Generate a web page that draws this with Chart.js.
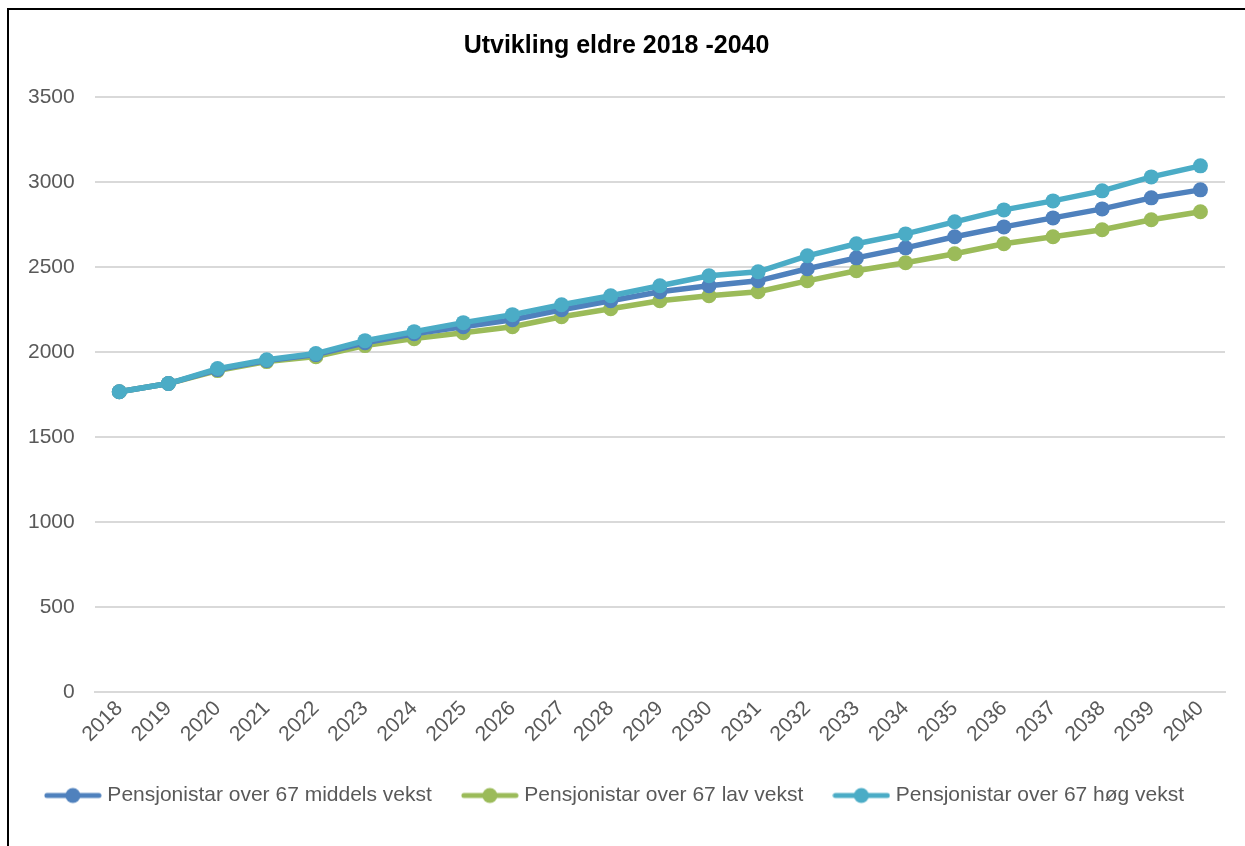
<!DOCTYPE html>
<html>
<head>
<meta charset="utf-8">
<script src="https://cdn.jsdelivr.net/npm/chart.js@4/dist/chart.umd.min.js"></script>
<style>
  html, body { margin: 0; padding: 0; background: #fff; }
  .frame {
    position: absolute; left: 7px; top: 8px; width: 1238px; height: 838px;
    border-left: 2px solid #000; border-top: 2px solid #000;
  }
  .wrap { position: absolute; left: 0; top: 0; width: 1245px; height: 846px; }
</style>
</head>
<body>
<div class="frame"></div>
<div class="wrap"><canvas id="eldreChart"></canvas></div>
<script>
// ===== Data =====
const years = ["2018","2019","2020","2021","2022","2023","2024","2025","2026","2027","2028",
  "2029","2030","2031","2032","2033","2034","2035","2036","2037","2038","2039","2040"];

const middels = [1767,1815,1897,1950,1985,2055,2108,2149,2190,2249,2302,
  2355,2390,2419,2490,2554,2613,2678,2736,2789,2842,2907,2954];
const lav = [1767,1815,1891,1944,1973,2038,2079,2114,2149,2208,2255,
  2302,2331,2355,2419,2478,2525,2578,2637,2678,2719,2778,2825];
const hog = [1767,1815,1903,1955,1991,2067,2120,2173,2220,2278,2331,
  2390,2449,2472,2566,2637,2695,2766,2836,2889,2948,3030,3095];

const seriesNames = [
  "Pensjonistar over 67 middels vekst",
  "Pensjonistar over 67 lav vekst",
  "Pensjonistar over 67 høg vekst"
];
const colors = ["#4F81BD", "#9BBB59", "#4BACC6"];

const FONT = "'Liberation Sans', Arial, sans-serif";

// legend marker: line with a dot in the middle (Excel style)
function legendMarker(color) {
  const c = document.createElement("canvas");
  c.width = 58; c.height = 18;
  const g = c.getContext("2d");
  g.strokeStyle = color;
  g.lineWidth = 5;
  g.lineCap = "round";
  g.beginPath(); g.moveTo(3, 9); g.lineTo(55, 9); g.stroke();
  g.fillStyle = color;
  g.beginPath(); g.arc(29, 9, 7.5, 0, Math.PI * 2); g.fill();
  return c;
}

function makeSet(i, data, order) {
  return {
    label: seriesNames[i],
    data: data,
    borderColor: colors[i],
    backgroundColor: colors[i],
    borderWidth: 5.5,
    pointRadius: 7.5,
    pointHoverRadius: 7.5,
    pointBorderWidth: 0,
    tension: 0,
    order: order
  };
}

const el = document.getElementById("eldreChart");
new Chart(el, {
  type: "line",
  data: {
    labels: years,
    datasets: [makeSet(0, middels, 1), makeSet(1, lav, 2), makeSet(2, hog, 0)]
  },
  options: {
    responsive: true,
    maintainAspectRatio: false,
    animation: false,
    layout: { padding: { left: 8, right: 20, top: 18, bottom: 30 } },
    plugins: {
      title: {
        display: true,
        text: "Utvikling eldre 2018 -2040",
        color: "#000",
        font: { family: FONT, size: 25, weight: "bold" },
        padding: { top: 13, bottom: 36 }
      },
      legend: {
        position: "bottom",
        labels: {
          usePointStyle: true,
          pointStyleWidth: 48,
          padding: 34,
          color: "#595959",
          font: { family: FONT, size: 21 },
          generateLabels: (chart) => chart.data.datasets.map((ds, i) => ({
            text: ds.label,
            pointStyle: legendMarker(colors[i]),
            fillStyle: colors[i],
            strokeStyle: colors[i],
            lineWidth: 0,
            fontColor: "#595959",
            hidden: false,
            datasetIndex: i
          }))
        }
      },
      tooltip: { enabled: false }
    },
    scales: {
      x: {
        offset: true,
        grid: { display: false, drawTicks: false },
        border: { color: "#d9d9d9", width: 2 },
        ticks: {
          minRotation: 45, maxRotation: 45, autoSkip: false,
          padding: 4,
          color: "#595959",
          font: { family: FONT, size: 21 }
        }
      },
      y: {
        min: 0, max: 3500,
        ticks: {
          stepSize: 500, padding: 20,
          color: "#595959",
          font: { family: FONT, size: 21 },
          callback: (v) => String(v)
        },
        grid: { color: "#d9d9d9", lineWidth: 2, drawTicks: false },
        border: { display: false }
      }
    }
  }
});
</script>
</body>
</html>
